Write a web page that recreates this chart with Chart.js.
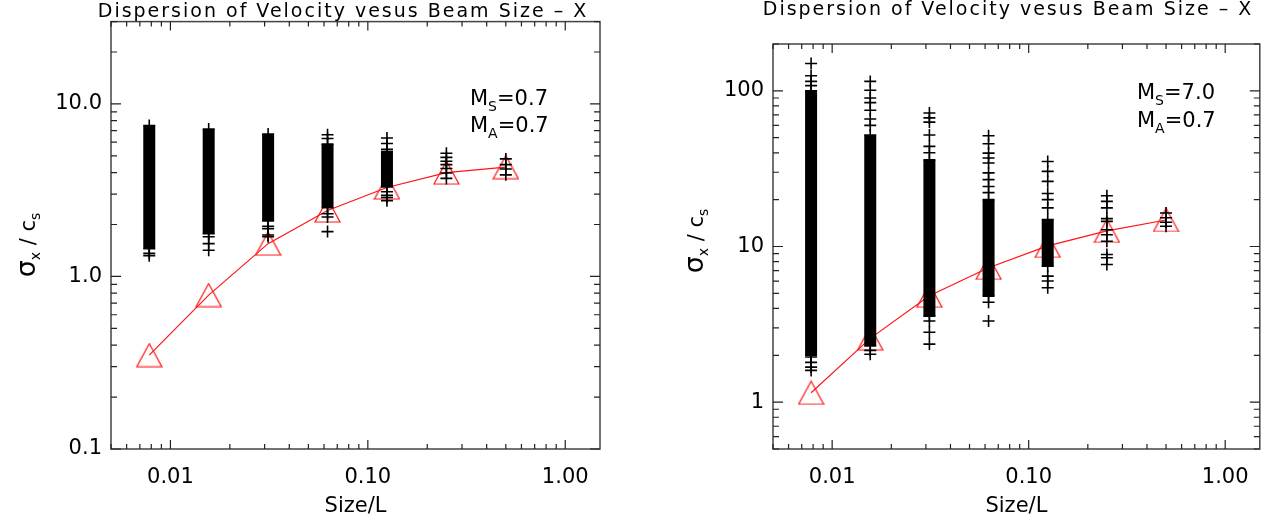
<!DOCTYPE html>
<html>
<head>
<meta charset="utf-8">
<script src="https://cdn.jsdelivr.net/npm/chart.js@4.4.0/dist/chart.umd.min.js"></script>
<style>
  body { margin: 0; background: #fff; width: 1273px; height: 525px; overflow: hidden; position: relative; }
  canvas { position: absolute; top: 0; }
</style>
</head>
<body>
<canvas id="leftChart" width="640" height="525" style="left:0;width:640px;height:525px"></canvas>
<canvas id="rightChart" width="633" height="525" style="left:640px;width:633px;height:525px"></canvas>
<script>
// ==========================================
// 1. data
// ==========================================
const sizes = [0.0078125, 0.015625, 0.03125, 0.0625, 0.125, 0.25, 0.5];

const xTickVals = [0.01, 0.1, 1];
const xTickLabels = ['0.01', '0.10', '1.00'];
const leftYTickVals = [0.1, 1, 10];
const leftYTickLabels = ['0.1', '1.0', '10.0'];
const rightYTickVals = [1, 10, 100];
const rightYTickLabels = ['1', '10', '100'];

// Ms = 0.7 panel
const leftMean = [0.35, 0.78, 1.55, 2.41, 3.28, 4.0, 4.3];
const leftBandLow = [1.45, 1.77, 2.1, 2.5, 3.3, null, null];   // solid part of each column
const leftBandHigh = [7.5, 7.15, 6.7, 5.85, 5.3, null, null];
const leftPoints = [
    [7.5, 1.45, 1.36, 1.32],
    [7.15, 1.77, 1.70, 1.55, 1.42],
    [6.7, 2.1, 1.95, 1.89, 1.74, 1.70],
    [6.63, 6.3, 5.85, 2.5, 2.31, 2.21, 1.82],
    [6.34, 5.9, 5.45, 5.3, 3.3, 3.1, 2.95, 2.87, 2.75],
    [5.18, 4.9, 4.65, 4.45, 4.22, 3.98, 3.7],
    [4.8, 4.45, 4.2, 3.88]
];

// Ms = 7.0 panel
const rightMean = [1.15, 2.57, 4.83, 7.3, 10.1, 12.6, 14.8];
const rightBandLow = [2.0, 2.3, 3.57, 4.8, 7.48, null, null];
const rightBandHigh = [100, 52, 36, 20, 14.9, null, null];
const rightPoints = [
    [150, 125, 115, 108, 100, 2.0, 1.95, 1.8, 1.68, 1.6],
    [115, 101, 90, 84, 75, 66, 60, 52, 2.3, 2.15, 2.03],
    [72, 67, 63, 52, 44, 40, 36, 3.57, 3.32, 2.81, 2.36],
    [51.5, 45.7, 39.8, 37, 34.4, 29.7, 26.9, 24.3, 22.2, 20, 4.8, 4.38, 3.32],
    [35.2, 30.4, 26.2, 21.9, 20, 17.7, 14.9, 7.48, 6.45, 6.0, 5.43],
    [21.2, 19.5, 17.7, 15.1, 14.5, 12.8, 11.9, 10.8, 8.89, 8.47, 7.67],
    [16.4, 15.3, 14.3, 13.5]
];

const FONT = "'DejaVu Sans', sans-serif";
const RED = 'rgb(255,20,20)';

// ==========================================
// 2. helpers
// ==========================================
function logTicks(min, max) {
    const out = [];
    for (let e = Math.floor(Math.log10(min)); e <= Math.ceil(Math.log10(max)); e++) {
        for (let m = 1; m <= 9; m++) {
            const v = parseFloat((m * Math.pow(10, e)).toPrecision(6));
            if (v >= min * 0.999999 && v <= max * 1.000001) out.push({ value: v });
        }
    }
    return out;
}

function labelFor(v, vals, labels) {
    const i = vals.findIndex(t => Math.abs(t - v) / t < 1e-6);
    return i >= 0 ? labels[i] : '';
}

function isDecade(v) {
    const l = Math.log10(v);
    return Math.abs(l - Math.round(l)) < 1e-6;
}

function makeTriangle() {
    const c = document.createElement('canvas');
    c.width = 27; c.height = 25;
    const g = c.getContext('2d');
    g.strokeStyle = RED;
    g.lineWidth = 1.2;
    g.beginPath();
    g.moveTo(13.5, 1);
    g.lineTo(26, 24);
    g.lineTo(1, 24);
    g.closePath();
    g.stroke();
    return c;
}
const triangle = makeTriangle();

// draws text pieces left to right, some lowered as subscripts
function drawParts(ctx, parts, x, y) {
    parts.forEach(p => {
        ctx.font = `${p.size}px ${FONT}`;
        ctx.fillText(p.t, x, y + (p.dy || 0));
        x += ctx.measureText(p.t).width;
    });
}
function partsWidth(ctx, parts) {
    let w = 0;
    parts.forEach(p => { ctx.font = `${p.size}px ${FONT}`; w += ctx.measureText(p.t).width; });
    return w;
}

// ==========================================
// 3. datasets
// ==========================================
function buildDatasets(mean, bandLow, bandHigh, points) {
    const ds = [];
    sizes.forEach((s, i) => {
        if (bandLow[i] === null) return;
        ds.push({
            type: 'line',
            data: [{ x: s, y: bandLow[i] }, { x: s, y: bandHigh[i] }],
            borderColor: '#000',
            borderWidth: 12,
            borderCapStyle: 'butt',
            pointRadius: 0
        });
    });
    const plus = [];
    points.forEach((col, i) => col.forEach(v => plus.push({ x: sizes[i], y: v })));
    ds.push({
        data: plus,
        pointStyle: 'cross',
        pointRadius: 6,
        borderColor: '#000',
        borderWidth: 1.6,
        showLine: false
    });
    ds.push({
        type: 'line',
        data: sizes.map((s, i) => ({ x: s, y: mean[i] })),
        borderColor: RED,
        borderWidth: 1.2,
        pointStyle: triangle,
        pointRadius: 12,
        fill: false,
        tension: 0
    });
    return ds;
}

// ==========================================
// 4. frame, inward ticks, titles and labels
// ==========================================
function framePlugin(cfg) {
    return {
        id: 'frame',
        afterDraw(chart) {
            const ctx = chart.ctx;
            const a = chart.chartArea;
            const sx = chart.scales.x, sy = chart.scales.y;
            ctx.save();
            ctx.strokeStyle = '#444';
            ctx.lineWidth = 1.5;
            ctx.strokeRect(a.left, a.top, a.right - a.left, a.bottom - a.top);

            ctx.lineWidth = 1.2;
            ctx.strokeStyle = '#222';
            ctx.beginPath();
            sx.ticks.forEach(t => {
                const px = sx.getPixelForValue(t.value);
                const len = isDecade(t.value) ? 9 : 5;
                ctx.moveTo(px, a.bottom); ctx.lineTo(px, a.bottom - len);
                ctx.moveTo(px, a.top); ctx.lineTo(px, a.top + len);
            });
            sy.ticks.forEach(t => {
                const py = sy.getPixelForValue(t.value);
                const len = isDecade(t.value) ? 10 : 6;
                ctx.moveTo(a.left, py); ctx.lineTo(a.left + len, py);
                ctx.moveTo(a.right, py); ctx.lineTo(a.right - len, py);
            });
            ctx.stroke();

            ctx.fillStyle = '#000';
            // title (the original font is wide, hence the spacing)
            ctx.font = `19px ${FONT}`;
            ctx.letterSpacing = '2px';
            ctx.textAlign = 'center';
            ctx.textBaseline = 'middle';
            ctx.fillText('Dispersion of Velocity vesus Beam Size \u2013 X', cfg.titleX, cfg.titleY);
            ctx.letterSpacing = '0px';

            // x title
            ctx.font = `21px ${FONT}`;
            ctx.fillText('Size/L', (a.left + a.right) / 2, 507);

            // Mach numbers
            ctx.textAlign = 'left';
            ctx.textBaseline = 'alphabetic';
            cfg.notes.forEach((n, i) => {
                drawParts(ctx, [
                    { t: 'M', size: 21 },
                    { t: n.sub, size: 14, dy: 6 },
                    { t: '=' + n.val, size: 21 }
                ], cfg.noteX, cfg.noteY[i]);
            });

            // y title, rotated, with subscripts
            const parts = [
                { t: '\u03c3', size: 27 },
                { t: 'x', size: 14, dy: 5 },
                { t: ' / ', size: 21 },
                { t: 'c', size: 21 },
                { t: 's', size: 14, dy: 5 }
            ];
            ctx.translate(cfg.yTitleX, cfg.yTitleY);
            ctx.rotate(-Math.PI / 2);
            drawParts(ctx, parts, -partsWidth(ctx, parts) / 2, 7);
            ctx.restore();
        }
    };
}

// ==========================================
// 5. panels
// ==========================================
function makePanel(id, cfg) {
    const canvas = document.getElementById(id);
    return new Chart(canvas.getContext('2d'), {
        type: 'scatter',
        data: { datasets: buildDatasets(cfg.mean, cfg.bandLow, cfg.bandHigh, cfg.points) },
        options: {
            responsive: false,
            animation: false,
            devicePixelRatio: 1,
            layout: { padding: { left: 0, top: cfg.top, right: cfg.padRight, bottom: 0 } },
            plugins: { legend: { display: false }, tooltip: { enabled: false } },
            scales: {
                x: {
                    type: 'logarithmic',
                    min: 0.005,
                    max: 1.5,
                    grid: { display: false, drawTicks: false },
                    border: { display: false },
                    afterBuildTicks: s => { s.ticks = logTicks(s.min, s.max); },
                    afterFit: s => { s.height = 525 - 449; },
                    ticks: {
                        autoSkip: false, maxRotation: 0, minRotation: 0, padding: 16,
                        color: '#000', font: { family: FONT, size: 21 },
                        callback: v => labelFor(v, xTickVals, xTickLabels)
                    }
                },
                y: {
                    type: 'logarithmic',
                    min: cfg.yMin,
                    max: cfg.yMax,
                    grid: { display: false, drawTicks: false },
                    border: { display: false },
                    afterBuildTicks: s => { s.ticks = logTicks(s.min, s.max); },
                    afterFit: s => { s.width = cfg.axisLeft; },
                    ticks: {
                        autoSkip: false, padding: 9,
                        color: '#000', font: { family: FONT, size: 21 },
                        callback: v => labelFor(v, cfg.yTickVals, cfg.yTickLabels)
                    }
                }
            }
        },
        plugins: [framePlugin(cfg)]
    });
}

makePanel('leftChart', {
    mean: leftMean, bandLow: leftBandLow, bandHigh: leftBandHigh, points: leftPoints,
    yMin: 0.1, yMax: 30, yTickVals: leftYTickVals, yTickLabels: leftYTickLabels,
    axisLeft: 111, top: 19.5, padRight: 40,
    titleX: 343, titleY: 12,
    notes: [{ sub: 'S', val: '0.7' }, { sub: 'A', val: '0.7' }],
    noteX: 470, noteY: [105, 132],
    yTitleX: 28, yTitleY: 245
});

makePanel('rightChart', {
    mean: rightMean, bandLow: rightBandLow, bandHigh: rightBandHigh, points: rightPoints,
    yMin: 0.5, yMax: 200, yTickVals: rightYTickVals, yTickLabels: rightYTickLabels,
    axisLeft: 133, top: 44, padRight: 3,
    titleX: 368, titleY: 10,
    notes: [{ sub: 'S', val: '7.0' }, { sub: 'A', val: '0.7' }],
    noteX: 497, noteY: [99, 127],
    yTitleX: 56, yTitleY: 241
});
</script>
</body>
</html>
